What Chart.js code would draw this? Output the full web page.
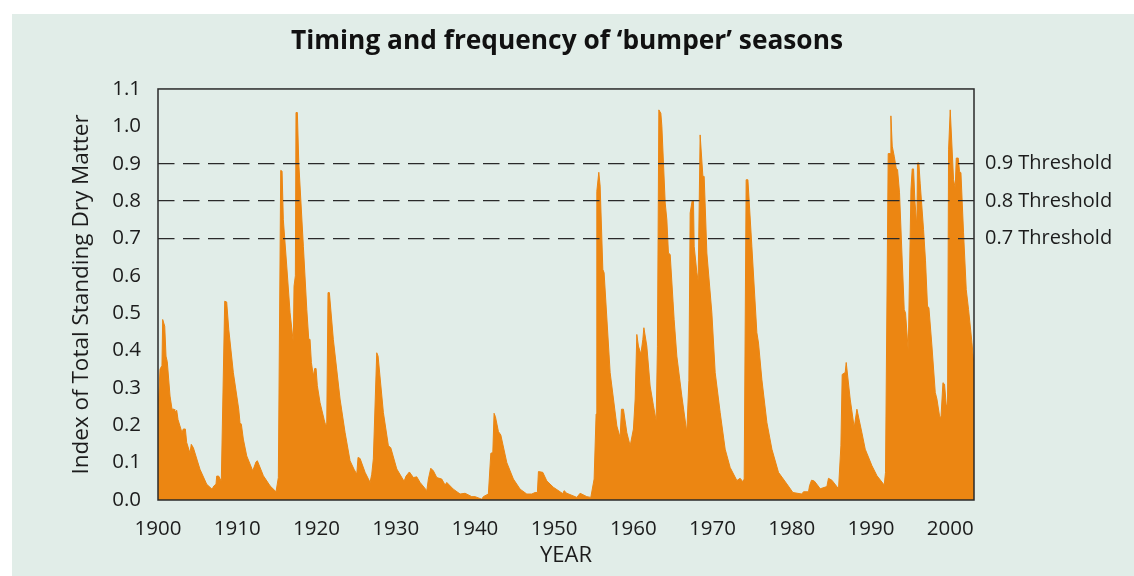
<!DOCTYPE html>
<html><head><meta charset="utf-8">
<script src="https://cdn.jsdelivr.net/npm/chart.js@4.4.0/dist/chart.umd.min.js"></script>
<style>html,body{margin:0;padding:0;background:#fff;overflow:hidden}</style>
</head><body>
<canvas id="c" width="1134" height="576" style="display:block;width:1134px;height:576px"></canvas>
<script>
const years = [
1900.00,1900.25,1900.50,1900.59,1900.85,1901.01,1901.17,1901.52,1901.77,1902.02,
1902.11,1902.36,1902.53,1903.03,1903.19,1903.45,1903.62,1904.04,1904.20,1904.46,
1905.30,1906.15,1906.82,1907.07,1907.32,1907.41,1907.66,1907.99,1908.42,1908.67,
1908.93,1909.51,1910.19,1910.35,1910.52,1910.77,1911.20,1911.96,1912.37,1912.54,
1913.30,1914.14,1914.90,1915.19,1915.49,1915.66,1915.82,1916.25,1916.67,1917.08,
1917.17,1917.34,1917.42,1917.59,1917.77,1918.35,1918.78,1919.03,1919.19,1919.36,
1919.61,1919.78,1919.95,1920.11,1920.45,1920.96,1921.12,1921.30,1921.46,1921.63,
1922.13,1922.98,1923.61,1924.24,1924.75,1925.09,1925.25,1925.51,1926.14,1926.77,
1926.98,1927.18,1927.61,1927.78,1928.45,1929.08,1929.38,1930.14,1931.06,1931.31,
1931.73,1932.24,1932.66,1933.08,1933.93,1934.13,1934.43,1934.76,1935.19,1935.82,
1936.24,1936.45,1937.28,1938.13,1938.76,1939.61,1940.03,1940.87,1941.07,1941.70,
1942.01,1942.26,1942.42,1942.59,1942.97,1943.27,1944.03,1944.86,1945.71,1946.55,
1947.18,1947.60,1947.89,1948.02,1948.57,1949.08,1949.91,1951.10,1951.26,1951.60,
1952.87,1953.28,1954.13,1954.63,1955.05,1955.30,1955.39,1955.64,1955.81,1956.15,
1956.31,1957.07,1957.92,1958.33,1958.50,1958.75,1959.18,1959.60,1960.01,1960.23,
1960.44,1960.64,1960.95,1961.20,1961.33,1961.70,1962.12,1962.54,1962.88,1963.04,
1963.22,1963.47,1963.60,1964.02,1964.23,1964.43,1964.65,1965.15,1965.49,1966.12,
1966.75,1967.01,1967.17,1967.42,1967.59,1967.68,1968.02,1968.18,1968.43,1968.78,
1968.94,1969.28,1969.91,1970.33,1970.96,1971.59,1972.22,1973.07,1973.48,1973.82,
1973.99,1974.24,1974.46,1974.96,1975.59,1975.80,1976.22,1976.86,1977.49,1978.32,
1979.38,1980.14,1981.27,1981.48,1982.11,1982.24,1982.49,1982.83,1983.17,1983.59,
1984.43,1984.63,1985.06,1985.90,1986.20,1986.36,1986.74,1986.87,1987.37,1987.88,
1988.22,1988.85,1989.27,1990.11,1990.75,1991.67,1991.83,1992.17,1992.42,1992.51,
1992.68,1992.93,1993.18,1993.35,1993.60,1993.90,1994.19,1994.36,1994.70,1995.04,
1995.20,1995.37,1995.54,1995.79,1995.87,1996.04,1996.21,1996.63,1996.88,1997.13,
1997.31,1997.69,1998.11,1998.32,1998.65,1998.83,1999.08,1999.28,1999.49,1999.66,
1999.79,2000.00,2000.21,2000.42,2000.63,2000.76,2001.01,2001.17,2001.35,2001.68,
2002.02,2002.31,2002.74,2003.00
];
const values = [
0.234,0.350,0.360,0.483,0.465,0.385,0.370,0.278,0.243,0.243,
0.234,0.240,0.215,0.180,0.190,0.190,0.154,0.125,0.149,0.140,
0.082,0.042,0.029,0.038,0.042,0.064,0.064,0.050,0.532,0.530,
0.457,0.341,0.243,0.207,0.203,0.163,0.118,0.078,0.102,0.105,
0.065,0.038,0.022,0.060,0.882,0.880,0.750,0.626,0.501,0.421,
0.572,0.600,1.037,1.037,0.902,0.679,0.510,0.430,0.430,0.368,
0.332,0.352,0.352,0.306,0.261,0.216,0.203,0.203,0.555,0.555,
0.430,0.270,0.181,0.105,0.082,0.069,0.114,0.111,0.074,0.047,
0.069,0.110,0.394,0.385,0.234,0.145,0.140,0.083,0.050,0.064,
0.075,0.060,0.062,0.047,0.025,0.056,0.085,0.078,0.060,0.056,
0.040,0.047,0.029,0.016,0.018,0.009,0.009,0.002,0.009,0.016,
0.125,0.127,0.232,0.223,0.183,0.174,0.100,0.056,0.029,0.016,
0.016,0.020,0.020,0.076,0.074,0.051,0.034,0.017,0.025,0.018,
0.007,0.018,0.009,0.007,0.056,0.230,0.826,0.877,0.840,0.617,
0.608,0.341,0.198,0.167,0.243,0.243,0.180,0.145,0.190,0.270,
0.443,0.412,0.390,0.430,0.461,0.412,0.305,0.252,0.212,0.410,
1.044,1.035,1.000,0.795,0.750,0.661,0.657,0.483,0.385,0.278,
0.181,0.320,0.768,0.800,0.800,0.679,0.608,0.586,0.977,0.866,
0.866,0.661,0.501,0.341,0.234,0.136,0.087,0.052,0.058,0.049,
0.056,0.857,0.857,0.679,0.448,0.420,0.323,0.207,0.136,0.074,
0.043,0.020,0.016,0.022,0.022,0.038,0.053,0.051,0.042,0.030,
0.036,0.058,0.053,0.030,0.145,0.336,0.341,0.368,0.270,0.194,
0.243,0.180,0.136,0.092,0.065,0.040,0.074,0.927,0.927,1.028,
0.947,0.920,0.888,0.884,0.822,0.661,0.510,0.500,0.399,0.830,
0.886,0.886,0.800,0.732,0.902,0.902,0.846,0.724,0.640,0.519,
0.514,0.412,0.288,0.270,0.225,0.220,0.314,0.310,0.256,0.252,
0.937,1.044,0.950,0.857,0.835,0.915,0.915,0.879,0.876,0.715,
0.563,0.510,0.421,0.359
];
const xTicks = [1900,1910,1920,1930,1940,1950,1960,1970,1980,1990,2000];
const yTicks = [0.0,0.1,0.2,0.3,0.4,0.5,0.6,0.7,0.8,0.9,1.0,1.1];
const thresholds = [0.7,0.8,0.9];
const thresholdLabels = ['0.7 Threshold','0.8 Threshold','0.9 Threshold'];
const titleText = 'Timing and frequency of \u2018bumper\u2019 seasons';
const yTitle = 'Index of Total Standing Dry Matter';
const xTitle = 'YEAR';

const TEXT = '#1c1c1c';
const FONT = "'Open Sans', 'DejaVu Sans', sans-serif";
Chart.defaults.font.family = FONT;
Chart.defaults.color = TEXT;

const bgPlugin = {
  id: 'bg',
  beforeDraw(chart) {
    const {ctx, width, height} = chart;
    ctx.save();
    ctx.fillStyle = '#ffffff';
    ctx.fillRect(0, 0, width, height);
    ctx.fillStyle = '#e1ede8';
    ctx.fillRect(12, 14, width - 12, height - 14);
    ctx.restore();
  }
};
const framePlugin = {
  id: 'frame',
  afterDraw(chart) {
    const a = chart.chartArea;
    const ctx = chart.ctx;
    ctx.save();
    ctx.strokeStyle = '#2a2a2a';
    ctx.lineWidth = 1.5;
    ctx.setLineDash([]);
    ctx.strokeRect(a.left, a.top, a.right - a.left, a.bottom - a.top);
    ctx.restore();
  }
};

new Chart(document.getElementById('c'), {
  type: 'line',
  data: {
    datasets: [{
      data: years.map((x, i) => ({x: x, y: values[i]})),
      fill: 'origin',
      backgroundColor: '#ec8612',
      borderColor: '#ec8612',
      borderWidth: 1,
      pointRadius: 0,
      tension: 0,
      xAxisID: 'x',
      yAxisID: 'y'
    }]
  },
  options: {
    responsive: false,
    animation: false,
    devicePixelRatio: 1,
    layout: {padding: 0},
    plugins: {
      legend: {display: false},
      tooltip: {enabled: false},
      title: {
        display: true,
        text: titleText,
        color: '#111',
        font: {size: 26.3, weight: 'bold'},
        padding: {top: 26.2, bottom: 31.2}
      }
    },
    scales: {
      x: {
        type: 'linear',
        min: 1900,
        max: 2003,
        afterBuildTicks: s => { s.ticks = xTicks.map(v => ({value: v})); },
        afterFit: s => { s.height = 76; },
        ticks: {
          callback: v => String(v),
          autoSkip: false, maxRotation: 0, minRotation: 0,
          padding: 17,
          color: TEXT,
          font: {size: 20.5}
        },
        grid: {display: false, drawTicks: false},
        border: {display: false},
        title: {display: true, text: xTitle, color: TEXT, font: {size: 22}, padding: {top: 0, bottom: 6.8}}
      },
      y: {
        type: 'linear',
        position: 'left',
        min: 0,
        max: 1.1,
        afterBuildTicks: s => { s.ticks = yTicks.map(v => ({value: v})); },
        afterFit: s => { s.width = 158; },
        ticks: {
          callback: v => Number(v).toFixed(1),
          padding: 17,
          color: TEXT,
          font: {size: 20.5}
        },
        grid: {display: false, drawTicks: false},
        border: {display: false},
        title: {display: true, text: yTitle, color: TEXT, font: {size: 22.5}, padding: {top: 68.5, bottom: 0}}
      },
      yR: {
        type: 'linear',
        position: 'right',
        min: 0,
        max: 1.1,
        afterBuildTicks: s => { s.ticks = thresholds.map(v => ({value: v})); },
        afterFit: s => { s.width = 160; },
        ticks: {
          callback: (v) => thresholdLabels[thresholds.findIndex(t => Math.abs(t - v) < 1e-6)],
          padding: 11,
          color: TEXT,
          font: {size: 20}
        },
        grid: {display: true, drawTicks: false, color: '#2a2a2a', lineWidth: 1.3, z: 1},
        border: {display: false, dash: [16.5, 8.5]}
      }
    }
  },
  plugins: [bgPlugin, framePlugin]
});
</script>
</body></html>
